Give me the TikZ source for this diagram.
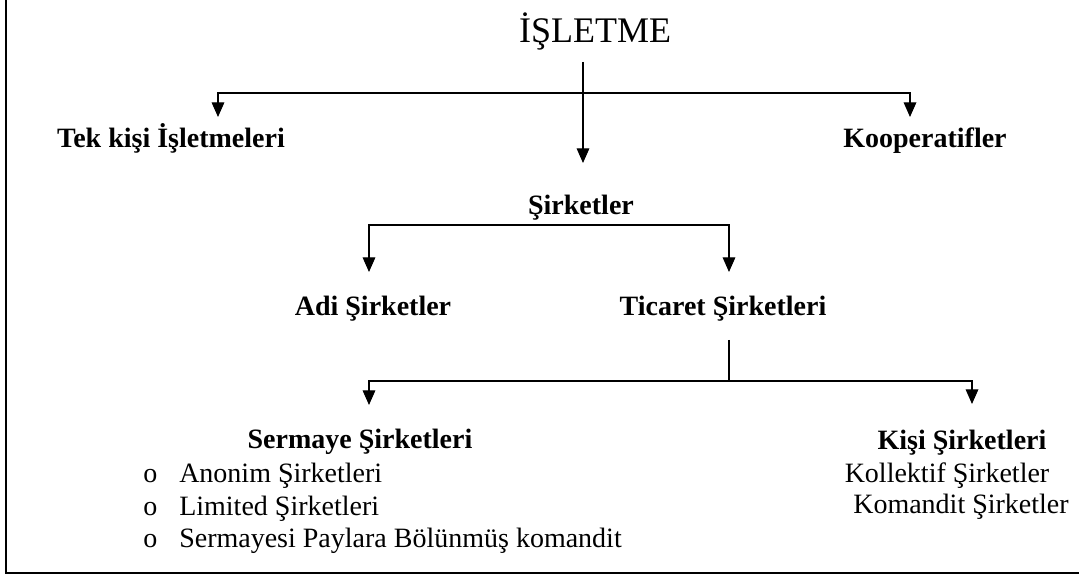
\documentclass[tikz,border=0pt]{standalone}
\usepackage{fontspec}
\setmainfont{Liberation Serif}
\usetikzlibrary{arrows.meta}
\begin{document}
\begin{tikzpicture}[x=0.75pt,y=-0.75pt,
  title/.style={inner sep=0pt, anchor=base, font=\fontsize{27}{30}\selectfont},
  head/.style={inner sep=0pt, anchor=base, font=\fontsize{21}{25}\selectfont\bfseries},
  item/.style={inner sep=0pt, anchor=base west, font=\fontsize{21}{25}\selectfont},
  itemc/.style={inner sep=0pt, anchor=base, font=\fontsize{21}{25}\selectfont},
  link/.style={line width=0.9pt},
  arr/.style={link, -{Triangle[width=9.5pt,length=11pt]}},
  arrs/.style={link, {Triangle[width=9.5pt,length=11pt]}-{Triangle[width=9.5pt,length=11pt]}},
  frame/.style={line width=2pt}]
\useasboundingbox (0,0) rectangle (1079,577);
% frame
\coordinate (fTop) at (6,0);
\coordinate (fCorner) at (6,573);
\coordinate (fRight) at (1079,573);
\draw[frame] (fTop) -- (fCorner) -- (fRight);

% texts
\node[title] (isletme) at (595,43) {İŞLETME};
\node[head] (tek) at (171,148) {Tek kişi İşletmeleri};
\node[head] (koop) at (925,148) {Kooperatifler};
\node[head] (sirketler) at (581,215) {Şirketler};
\node[head] (adi) at (373,316) {Adi Şirketler};
\node[head] (ticaret) at (723,316) {Ticaret Şirketleri};
\node[head] (sermaye) at (360,449) {Sermaye Şirketleri};
\node[item] (b1) at (143,483) {o};
\node[item] (b2) at (143,515) {o};
\node[item] (b3) at (143,547) {o};
\node[item] (anonim) at (179,483) {Anonim Şirketleri};
\node[item] (limited) at (179,515) {Limited Şirketleri};
\node[item] (spbk) at (179,547) {Sermayesi Paylara Bölünmüş komandit};
\node[head] (kisi) at (962,450) {Kişi Şirketleri};
\node[itemc] (kollektif) at (947,482) {Kollektif Şirketler};
\node[itemc] (komandit) at (961,513) {Komandit Şirketler};

% level 1
\coordinate (iTop) at (583,62);
\coordinate (iTip) at (583,163);
\coordinate (tTip) at (218,117);
\coordinate (kTip) at (910,117);
\coordinate (bar1) at (583,93);
\draw[arr] (iTop) -- (iTip);
\draw[arrs] (tTip) |- (bar1) -| (kTip);

% level 2
\coordinate (aTip) at (369,272);
\coordinate (cTip) at (729,272);
\coordinate (bar2) at (581,225);
\draw[arrs] (aTip) |- (bar2) -| (cTip);

% level 3
\coordinate (tcTop) at (729,340);
\coordinate (bar3) at (729,381);
\coordinate (sTip) at (369,405);
\coordinate (kiTip) at (972,404);
\draw[link] (tcTop) -- (bar3);
\draw[arrs] (sTip) |- (bar3) -| (kiTip);
\end{tikzpicture}
\end{document}
